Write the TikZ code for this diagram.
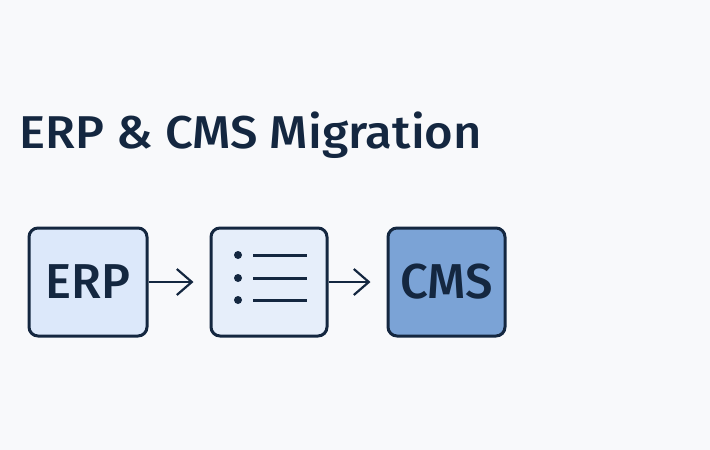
\documentclass[tikz,border=0pt]{standalone}
\usepackage{fontspec}
\setmainfont{Open Sans}
\newfontfamily\medfont{Fira Sans Medium}
\usetikzlibrary{arrows.meta}
\definecolor{ink}{HTML}{142740}
\definecolor{bg}{HTML}{F8F9FB}
\definecolor{lightA}{HTML}{DCE8FA}
\definecolor{lightB}{HTML}{E6EEFA}
\definecolor{midblue}{HTML}{7BA3D6}
\tikzset{
  boxnode/.style={draw=ink, line width=3pt, rounded corners=9pt, minimum width=118pt, minimum height=108pt, inner sep=0pt, text=ink},
  flowarrow/.style={draw=ink, line width=2.2pt, -{Straight Barb[length=15pt,width=26pt,line width=2.2pt]}},
  listline/.style={draw=ink, line width=3pt},
  listdot/.style={fill=ink, circle, inner sep=0pt, minimum size=8pt}
}
\begin{document}
\begin{tikzpicture}[x=1pt,y=-1pt]
\fill[bg] (0,0) rectangle (710,450);
\useasboundingbox (0,0) rectangle (710,450);
\node[anchor=base west, text=ink, inner sep=0pt, font=\medfont\fontsize{46}{50}\selectfont] (title) at (19,148) {\scalebox{1.065}[1]{ERP \& CMS Migration}};
\node[boxnode, fill=lightA, font=\medfont\fontsize{49}{50}\selectfont] (erp) at (88,282) {ERP};
\node[boxnode, fill=lightB, minimum width=116pt] (list) at (269,282) {};
\node[boxnode, fill=midblue, minimum width=117pt, font=\medfont\fontsize{49}{50}\selectfont] (cms) at (446.5,282) {CMS};
\draw[flowarrow] (erp.east) -- ++(45,0) coordinate (a1);
\draw[flowarrow] (list.east) -- ++(42,0) coordinate (a2);
\foreach \yy/\n in {255/1,278/2,300/3}{
  \node[listdot] (d\n) at (238,\yy) {};
  \coordinate (ls\n) at (253,\yy);
  \coordinate (le\n) at (307,\yy);
  \draw[listline] (ls\n) -- (le\n);
}
\end{tikzpicture}
\end{document}
